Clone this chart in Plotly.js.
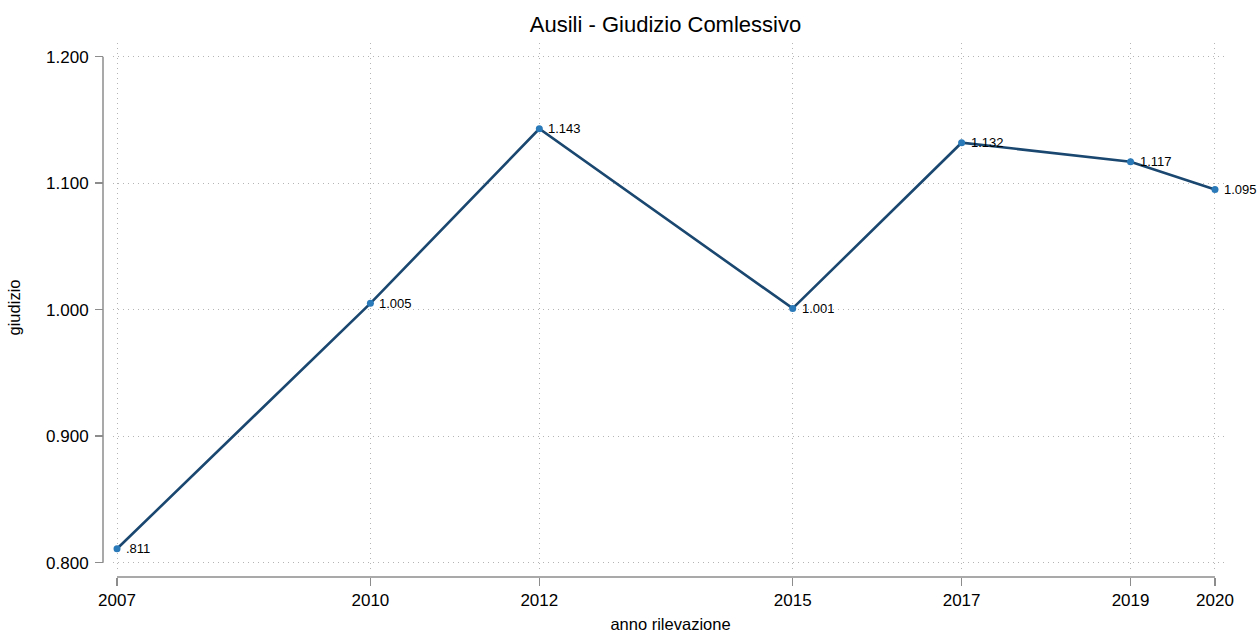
<!DOCTYPE html>
<html>
<head>
<meta charset="utf-8">
<script src="https://cdn.plot.ly/plotly-3.0.1.min.js"></script>
<style>html,body{margin:0;padding:0;background:#fff;}#chart{width:1258px;height:633px;}</style>
</head>
<body>
<div id="chart"></div>
<script>
const years = [2007, 2010, 2012, 2015, 2017, 2019, 2020];
const giudizio = [0.811, 1.005, 1.143, 1.001, 1.132, 1.117, 1.095];
const pointLabels = [".811", "1.005", "1.143", "1.001", "1.132", "1.117", "1.095"];
const yTicks = [0.8, 0.9, 1.0, 1.1, 1.2];
const yTickText = ["0.800", "0.900", "1.000", "1.100", "1.200"];

const FONT = "Liberation Sans, Arial, Helvetica, sans-serif";
const AXIS_COLOR = "#8c8c8c";

const trace = {
  x: years,
  y: giudizio,
  mode: "lines+markers",
  line: {color: "#1a476f", width: 2.6},
  marker: {color: "#2a7ab9", size: 7},
  cliponaxis: false,
  hoverinfo: "x+y"
};

const labelAnnotations = years.map((yr, i) => ({
  x: yr,
  y: giudizio[i],
  xref: "x",
  yref: "y",
  text: pointLabels[i],
  showarrow: false,
  xanchor: "left",
  yanchor: "middle",
  xshift: 7,
  font: {family: FONT, size: 13, color: "#000"}
}));

const layout = {
  width: 1258,
  height: 633,
  margin: {l: 103, r: 30, t: 43, b: 56},
  paper_bgcolor: "#fff",
  plot_bgcolor: "#fff",
  showlegend: false,
  font: {family: FONT, color: "#000"},
  title: {text: "Ausili - Giudizio Comlessivo", font: {family: FONT, size: 22, color: "#000"}, xref: "paper", x: 0.5, xanchor: "center", y: 0.962, yanchor: "middle"},
  xaxis: {
    domain: [0.0089, 1],
    range: [2006.9526, 2020.154],
    anchor: "free",
    position: 0,
    tickvals: years,
    ticktext: years.map(String),
    ticks: "outside",
    ticklen: 8,
    tickwidth: 1.5,
    tickcolor: AXIS_COLOR,
    ticklabelstandoff: 0,
    tickfont: {family: FONT, size: 17, color: "#000"},
    showline: false,
    zeroline: false,
    showgrid: true,
    gridcolor: "#b4b4b4",
    griddash: "1px,4px",
    gridwidth: 1,
    title: {text: "anno rilevazione", font: {family: FONT, size: 16.5, color: "#000"}, standoff: 10}
  },
  yaxis: {
    domain: [0.0094, 1],
    range: [0.79265, 1.21083],
    anchor: "free",
    position: 0,
    tickvals: yTicks,
    ticktext: yTickText,
    ticks: "outside",
    ticklen: 8,
    tickwidth: 1.5,
    tickcolor: AXIS_COLOR,
    ticklabelstandoff: 3,
    tickfont: {family: FONT, size: 17, color: "#000"},
    showline: false,
    zeroline: false,
    showgrid: true,
    gridcolor: "#b4b4b4",
    griddash: "1px,4px",
    gridwidth: 1,
    title: {text: "giudizio", font: {family: FONT, size: 16.5, color: "#000"}, standoff: 20}
  },
  annotations: labelAnnotations,
  shapes: [
    {type: "line", xref: "paper", x0: 0, x1: 0, yref: "y", y0: yTicks[0], y1: yTicks[yTicks.length - 1], line: {color: AXIS_COLOR, width: 1.5}},
    {type: "line", xref: "x", x0: years[0], x1: years[years.length - 1], yref: "paper", y0: 0, y1: 0, line: {color: AXIS_COLOR, width: 1.5}}
  ]
};

Plotly.newPlot("chart", [trace], layout, {displayModeBar: false, staticPlot: true});
</script>
</body>
</html>
